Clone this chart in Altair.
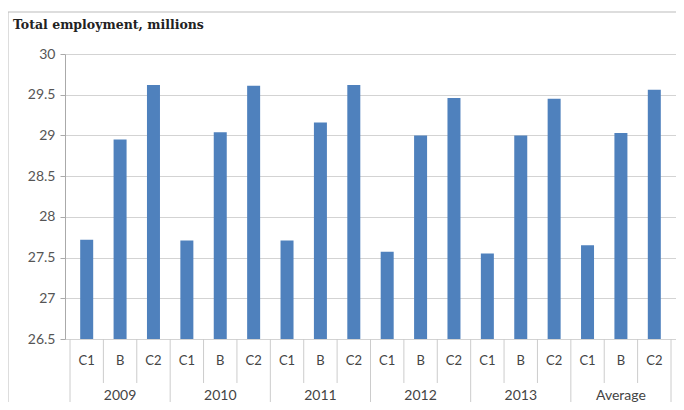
import altair as alt
import pandas as pd

groups = ["2009", "2010", "2011", "2012", "2013", "Average"]
cats = ["C1", "B", "C2"]
values = [27.72, 28.95, 29.62,
          27.71, 29.04, 29.61,
          27.71, 29.16, 29.62,
          27.57, 29.00, 29.46,
          27.55, 29.00, 29.45,
          27.65, 29.03, 29.56]
y_ticks = [26.5, 27, 27.5, 28, 28.5, 29, 29.5, 30]

W, H = 611, 285
rows = []
for gi, g in enumerate(groups):
    for ci, c in enumerate(cats):
        i = gi * 3 + ci
        rows.append({"group": g, "cat": c, "pos": i + 0.5, "value": values[i], "base": 26.5})
df = pd.DataFrame(rows)
grp = pd.DataFrame({"group": groups, "pos": [i * 3 + 1.5 for i in range(len(groups))]})
minor = pd.DataFrame({"edge": [i for i in range(19) if i % 3 != 0]})
major = pd.DataFrame({"edge": [i for i in range(0, 19, 3)]})

xs = alt.Scale(domain=[0, 18], range=[0, W], nice=False, zero=False)
ys = alt.Scale(domain=[26.5, 30], nice=False, zero=False)

bars = alt.Chart(df).mark_bar(size=13, color="#4F81BD").encode(
    x=alt.X("pos:Q", scale=xs, axis=None),
    y=alt.Y("value:Q", scale=ys, axis=alt.Axis(values=y_ticks, format="~g", title=None,
                                                grid=True, gridColor="#d3d3d3", domainColor="#aaaaaa",
                                                tickColor="#aaaaaa", tickSize=5, labelPadding=5,
                                                labelFont="Lato", labelFontSize=14, labelColor="#555555")),
    y2="base:Q",
)

cat_text = alt.Chart(df).mark_text(font="Lato", fontSize=13, color="#444444", baseline="middle").encode(
    x=alt.X("pos:Q", scale=xs), y=alt.value(H + 22), text="cat:N")
grp_text = alt.Chart(grp).mark_text(font="Lato", fontSize=14, color="#444444", baseline="middle").encode(
    x=alt.X("pos:Q", scale=xs), y=alt.value(H + 57), text="group:N")
minor_rules = alt.Chart(minor).mark_rule(color="#cccccc").encode(
    x=alt.X("edge:Q", scale=xs), y=alt.value(H), y2=alt.value(H + 44))
major_rules = alt.Chart(major).mark_rule(color="#cccccc").encode(
    x=alt.X("edge:Q", scale=xs), y=alt.value(H), y2=alt.value(H + 80))

frame_top = alt.Chart(pd.DataFrame({"a": [0]})).mark_rule(color="#bbbbbb").encode(
    x=alt.value(-57), x2=alt.value(W + 20), y=alt.value(-42))
frame_left = alt.Chart(pd.DataFrame({"a": [0]})).mark_rule(color="#bbbbbb").encode(
    x=alt.value(-57), y=alt.value(-42), y2=alt.value(H + 80))
title = alt.Chart(pd.DataFrame({"t": ["Total employment, millions"]})).mark_text(
    font="DejaVu Serif", fontSize=12.5, fontWeight="bold", color="#222222", align="left", baseline="middle"
).encode(x=alt.value(-52), y=alt.value(-29), text="t:N")

chart = alt.layer(bars, minor_rules, major_rules, cat_text, grp_text, frame_top, frame_left, title).properties(
    width=W, height=H, padding={"left": 57, "top": 46, "right": 0, "bottom": 63},
    autosize=alt.AutoSizeParams(type="none"),
).configure_view(stroke=None).configure_axis(labelFontWeight="normal")

chart.save("out.html", embed_options={"renderer": "svg", "actions": False})
